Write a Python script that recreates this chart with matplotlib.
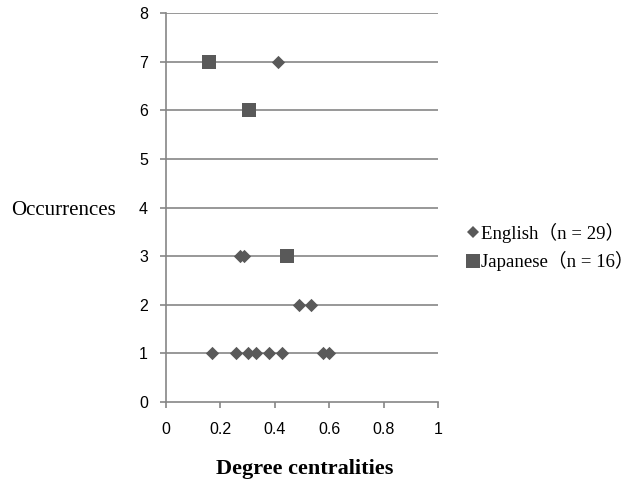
import matplotlib
matplotlib.use("Agg")
import matplotlib.pyplot as plt
from matplotlib.lines import Line2D

english_x = [0.168, 0.257, 0.303, 0.333, 0.380, 0.425, 0.578, 0.599,
             0.490, 0.532, 0.272, 0.288, 0.413]
english_y = [1, 1, 1, 1, 1, 1, 1, 1, 2, 2, 3, 3, 7]
japanese_x = [0.159, 0.306, 0.446]
japanese_y = [7, 6, 3]
english_label = "English（n = 29）"
japanese_label = "Japanese（n = 16）"
x_ticks = [0, 0.2, 0.4, 0.6, 0.8, 1]
x_tick_labels = ["0", "0.2", "0.4", "0.6", "0.8", "1"]
y_ticks = list(range(0, 9))

marker_color = "#595959"
grid_color = "#868686"

fig = plt.figure(figsize=(6.38, 4.83), dpi=100)
ax = fig.add_axes([0.260, 0.1677, 0.4265, 0.805])

for y in y_ticks[1:]:
    ax.axhline(y, color=grid_color, lw=1.2, zorder=1)

ax.scatter(english_x, english_y, marker="D", s=46, color=marker_color, zorder=3, linewidths=0)
ax.scatter(japanese_x, japanese_y, marker="s", s=112, color=marker_color, zorder=3, linewidths=0)

ax.set_xlim(0, 1)
ax.set_ylim(0, 8)
ax.set_xticks(x_ticks)
ax.set_xticklabels(x_tick_labels)
ax.set_yticks(y_ticks)
for s in ["top", "right"]:
    ax.spines[s].set_visible(False)
for s in ["left", "bottom"]:
    ax.spines[s].set_color(grid_color)
    ax.spines[s].set_linewidth(1.2)
ax.tick_params(axis="both", color=grid_color, length=4.3, width=1.2,
               labelsize=11.5, labelcolor="black")
ax.tick_params(axis="x", pad=10)
ax.tick_params(axis="y", pad=8.5)
for lab in ax.get_xticklabels() + ax.get_yticklabels():
    lab.set_family("Liberation Sans")

fig.text(0.478, 0.029, "Degree centralities", family="Liberation Serif", fontsize=16,
         fontweight="bold", ha="center", va="center")
fig.text(0.018, 0.565, "Occurrences", family="Liberation Serif", fontsize=15,
         va="center", ha="left")

handles = [
    Line2D([], [], marker="D", ls="none", color=marker_color, markersize=6.3, markeredgewidth=0),
    Line2D([], [], marker="s", ls="none", color=marker_color, markersize=10, markeredgewidth=0),
]
leg = fig.legend(handles, [english_label, japanese_label], loc="center left",
                 bbox_to_anchor=(0.731, 0.489), frameon=False, handlelength=0.75,
                 handletextpad=0.05, labelspacing=0.45, borderpad=0, borderaxespad=0,
                 prop={"family": ["Liberation Serif", "Noto Sans CJK JP"], "size": 13.5})

fig.savefig("out.png", dpi=100)
